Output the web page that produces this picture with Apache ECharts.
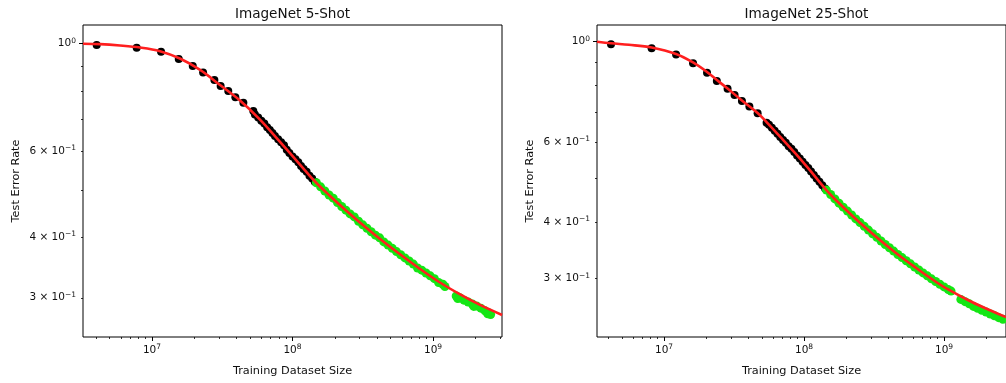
<!DOCTYPE html>
<html>
<head>
<meta charset="utf-8">
<script src="https://cdn.jsdelivr.net/npm/echarts@6/dist/echarts.min.js"></script>
<style>
  html, body { margin: 0; padding: 0; background: #fff; }
  #chart { width: 1006px; height: 383px; }
</style>
</head>
<body>
<div id="chart"></div>
<script>
// ---- ImageNet 5-shot ----
const curve5X = [3.23e6, 4.27e6, 5.92e6, 8.22e6, 1.14e7, 1.58e7, 2.20e7, 3.05e7, 4.23e7, 5.87e7, 8.15e7, 1.13e8, 1.445e8, 1.85e8, 2.36e8, 3.02e8, 4.20e8, 5.82e8, 8.08e8, 1.12e9, 1.56e9, 2.16e9, 3.10e9];
const curve5Y = [1.0, 0.998, 0.9915, 0.982, 0.965, 0.932, 0.883, 0.822, 0.764, 0.698, 0.628, 0.564, 0.5205, 0.486, 0.456, 0.4286, 0.3963, 0.3686, 0.3439, 0.3225, 0.3048, 0.290, 0.2765];

const fitPts5X = [4.04e6, 7.78e6, 1.16e7, 1.55e7, 1.95e7, 2.31e7, 2.78e7, 3.08e7, 3.49e7, 3.92e7, 4.47e7, 5.26e7,
  5.4e7, 5.7e7, 6.0e7, 6.3e7, 6.6e7, 6.9e7, 7.2e7, 7.5e7, 7.9e7, 8.3e7, 8.7e7, 9.1e7, 9.5e7, 1.0e8, 1.05e8, 1.1e8, 1.15e8, 1.2e8, 1.26e8, 1.32e8, 1.38e8, 1.44e8];
const fitPts5Y = [0.994, 0.981, 0.963, 0.930, 0.900, 0.872, 0.842, 0.818, 0.799, 0.776, 0.756, 0.727,
  0.715, 0.705, 0.694, 0.685, 0.673, 0.664, 0.655, 0.646, 0.636, 0.627, 0.618, 0.605, 0.596, 0.586, 0.578, 0.570, 0.560, 0.552, 0.545, 0.535, 0.528, 0.520];

const heldOut5X = [1.479e8, 1.585e8, 1.698e8, 1.820e8, 1.950e8, 2.089e8, 2.239e8, 2.399e8, 2.570e8, 2.754e8, 2.951e8, 3.162e8, 3.388e8, 3.631e8, 3.890e8, 4.169e8, 4.467e8, 4.786e8, 5.129e8, 5.495e8, 5.888e8, 6.310e8, 6.761e8, 7.244e8, 7.762e8, 8.318e8, 8.913e8, 9.550e8, 1.023e9, 1.096e9, 1.175e9, 1.216e9,
  1.462e9, 1.500e9, 1.549e9, 1.660e9, 1.778e9, 1.905e9, 1.950e9, 2.042e9, 2.188e9, 2.344e9, 2.450e9, 2.512e9, 2.570e9];
const heldOut5Y = [0.5175, 0.5075, 0.4976, 0.4883, 0.4810, 0.4709, 0.4624, 0.4543, 0.4464, 0.4400, 0.4311, 0.4239, 0.4170, 0.4102, 0.4036, 0.3985, 0.3909, 0.3850, 0.3792, 0.3734, 0.3678, 0.3624, 0.3571, 0.3519, 0.3455, 0.3419, 0.3373, 0.3328, 0.3284, 0.3225, 0.3199, 0.3165,
  0.3025, 0.2990, 0.3000, 0.2966, 0.2940, 0.2912, 0.2880, 0.2885, 0.2856, 0.2820, 0.2780, 0.2790, 0.2770];

// ---- ImageNet 25-shot ----
const curve25X = [3.32e6, 4.18e6, 5.61e6, 8.15e6, 1.219e7, 1.611e7, 2.028e7, 2.383e7, 2.843e7, 3.60e7, 4.66e7, 5.40e7, 6.77e7, 8.61e7, 1.096e8, 1.433e8, 1.775e8, 2.259e8, 2.87e8, 3.66e8, 4.73e8, 6.25e8, 8.17e8, 1.069e9, 1.553e9, 2.36e9, 2.77e9];
const curve25Y = [1.0, 0.9919, 0.9844, 0.9710, 0.9394, 0.8997, 0.8572, 0.8229, 0.7883, 0.7416, 0.6957, 0.6647, 0.6164, 0.5681, 0.5212, 0.4717, 0.4404, 0.4103, 0.3840, 0.3603, 0.3381, 0.3173, 0.2993, 0.2838, 0.2670, 0.2518, 0.2467];

const fitPts25X = [4.18e6, 8.15e6, 1.219e7, 1.611e7, 2.028e7, 2.383e7, 2.843e7, 3.19e7, 3.60e7, 4.07e7, 4.66e7, 5.40e7,
  5.62e7, 5.89e7, 6.17e7, 6.46e7, 6.76e7, 7.08e7, 7.41e7, 7.76e7, 8.13e7, 8.51e7, 8.91e7, 9.33e7, 9.77e7, 1.023e8, 1.072e8, 1.122e8, 1.175e8, 1.230e8, 1.288e8, 1.349e8, 1.413e8];
const fitPts25Y = [0.987, 0.967, 0.937, 0.896, 0.854, 0.819, 0.787, 0.763, 0.740, 0.719, 0.695, 0.662,
  0.656, 0.646, 0.636, 0.626, 0.616, 0.607, 0.598, 0.588, 0.580, 0.571, 0.561, 0.552, 0.543, 0.534, 0.526, 0.517, 0.508, 0.499, 0.491, 0.482, 0.474];

const heldOut25X = [1.445e8, 1.549e8, 1.660e8, 1.778e8, 1.905e8, 2.042e8, 2.188e8, 2.344e8, 2.512e8, 2.692e8, 2.884e8, 3.090e8, 3.311e8, 3.548e8, 3.802e8, 4.074e8, 4.365e8, 4.677e8, 5.012e8, 5.370e8, 5.754e8, 6.166e8, 6.607e8, 7.079e8, 7.586e8, 8.128e8, 8.710e8, 9.333e8, 1.0e9, 1.072e9, 1.122e9,
  1.318e9, 1.413e9, 1.514e9, 1.622e9, 1.738e9, 1.862e9, 1.995e9, 2.138e9, 2.291e9, 2.455e9, 2.630e9];
const heldOut25Y = [0.4703, 0.4600, 0.4498, 0.4401, 0.4312, 0.4227, 0.4143, 0.4062, 0.3987, 0.3912, 0.3838, 0.3768, 0.3699, 0.3632, 0.3568, 0.3508, 0.3449, 0.3391, 0.3337, 0.3285, 0.3233, 0.3182, 0.3134, 0.3087, 0.3042, 0.2996, 0.2955, 0.2915, 0.2875, 0.2836, 0.2815,
  0.2698, 0.2668, 0.2638, 0.2604, 0.2579, 0.2554, 0.2530, 0.2506, 0.2482, 0.2459, 0.2438];

// ---- tick positions ----
const xMajorTicks = [1e7, 1e8, 1e9];
const xMinorTicks = [3e6, 4e6, 5e6, 6e6, 7e6, 8e6, 9e6, 2e7, 3e7, 4e7, 5e7, 6e7, 7e7, 8e7, 9e7,
  2e8, 3e8, 4e8, 5e8, 6e8, 7e8, 8e8, 9e8, 2e9, 3e9];
const yMajorTicks = [1];
const yLabelTicks = [1, 0.6, 0.4, 0.3];
const yMinorTicks = [0.9, 0.8, 0.7, 0.6, 0.5, 0.4, 0.3];

const titles = ['ImageNet 5-Shot', 'ImageNet 25-Shot'];
const xName = 'Training Dataset Size';
const yName = 'Test Error Rate';

const FONT = 'DejaVu Sans';
const INK = '#111';

const panels = [
  { left: 83, xMin: 3.228e6, xMax: 3.097e9, yMin: 0.2491, yMax: 1.0926,
    curveX: curve5X, curveY: curve5Y, fitX: fitPts5X, fitY: fitPts5Y, heldX: heldOut5X, heldY: heldOut5Y },
  { left: 597, xMin: 3.32e6, xMax: 2.77e9, yMin: 0.2229, yMax: 1.0886,
    curveX: curve25X, curveY: curve25Y, fitX: fitPts25X, fitY: fitPts25Y, heldX: heldOut25X, heldY: heldOut25Y }
];
const GRID_TOP = 25, GRID_W = 419, GRID_H = 312;

const zip = (xs, ys) => xs.map((x, i) => [x, ys[i]]);
const supRich = {
  b: { fontFamily: FONT, fontSize: 10.5, color: INK, lineHeight: 14 },
  s: { fontFamily: FONT, fontSize: 7.5, color: INK, lineHeight: 14, verticalAlign: 'top', padding: [0, 0, 4, 0] }
};
const xLabelFmt = v => '{b|10}{s|' + Math.round(Math.log10(v)) + '}';
const yLabelFmt = v => {
  if (Math.abs(v - 1) < 1e-9) return '{b|10}{s|0}';
  return '{b|' + Math.round(v * 10) + ' × 10}{s|−1}';
};

const option = {
  animation: false,
  backgroundColor: '#fff',
  title: panels.map((p, i) => ({
    text: titles[i],
    left: p.left + GRID_W / 2,
    top: 7,
    textAlign: 'center',
    padding: 0,
    textStyle: { fontFamily: FONT, fontSize: 13.6, fontWeight: 'normal', color: INK }
  })),
  grid: panels.map(p => ({
    left: p.left, top: GRID_TOP, width: GRID_W, height: GRID_H,
    show: true, borderColor: '#000', borderWidth: 1, backgroundColor: 'transparent'
  })),
  xAxis: [],
  yAxis: [],
  series: []
};

panels.forEach((p, g) => {
  // major x ticks + labels + axis name
  option.xAxis.push({
    type: 'log', logBase: 10, gridIndex: g, position: 'bottom', min: p.xMin, max: p.xMax,
    axisLine: { show: false }, splitLine: { show: false }, minorTick: { show: false },
    axisTick: { show: true, customValues: xMajorTicks, length: 4, lineStyle: { color: '#000', width: 1 } },
    axisLabel: { customValues: xMajorTicks, formatter: xLabelFmt, rich: supRich, margin: 6 },
    name: xName, nameLocation: 'middle', nameGap: 29,
    nameTextStyle: { fontFamily: FONT, fontSize: 11.3, color: INK }
  });
  // minor x ticks
  option.xAxis.push({
    type: 'log', logBase: 10, gridIndex: g, position: 'bottom', min: p.xMin, max: p.xMax,
    axisLine: { show: false }, splitLine: { show: false },
    axisTick: { show: true, customValues: xMinorTicks, length: 2, lineStyle: { color: '#000', width: 0.8 } },
    axisLabel: { show: false }
  });
  // y ticks + labels + axis name
  option.yAxis.push({
    type: 'log', logBase: 10, gridIndex: g, position: 'left', min: p.yMin, max: p.yMax,
    axisLine: { show: false }, splitLine: { show: false },
    axisTick: { show: true, customValues: yMajorTicks, length: 4, lineStyle: { color: '#000', width: 1 } },
    axisLabel: { customValues: yLabelTicks, formatter: yLabelFmt, rich: supRich, margin: 7 },
    name: yName, nameLocation: 'middle', nameGap: 61, nameRotate: 90,
    nameTextStyle: { fontFamily: FONT, fontSize: 11.3, color: INK }
  });
  option.yAxis.push({
    type: 'log', logBase: 10, gridIndex: g, position: 'left', min: p.yMin, max: p.yMax,
    axisLine: { show: false }, splitLine: { show: false },
    axisTick: { show: true, customValues: yMinorTicks, length: 2, lineStyle: { color: '#000', width: 0.8 } },
    axisLabel: { show: false }
  });

  const xi = g * 2, yi = g * 2;
  option.series.push({
    type: 'scatter', xAxisIndex: xi, yAxisIndex: yi, data: zip(p.fitX, p.fitY),
    symbol: 'circle', symbolSize: 8, itemStyle: { color: '#000', opacity: 1 }, z: 2
  });
  option.series.push({
    type: 'scatter', xAxisIndex: xi, yAxisIndex: yi, data: zip(p.heldX, p.heldY),
    symbol: 'circle', symbolSize: 9, itemStyle: { color: '#14e614', opacity: 1 }, z: 3
  });
  option.series.push({
    type: 'line', xAxisIndex: xi, yAxisIndex: yi, data: zip(p.curveX, p.curveY),
    showSymbol: false, smooth: 0.35, lineStyle: { color: '#ff1f1f', width: 2.6 }, z: 4
  });
});

const chart = echarts.init(document.getElementById('chart'), null, { renderer: 'canvas' });
chart.setOption(option);
</script>
</body>
</html>
